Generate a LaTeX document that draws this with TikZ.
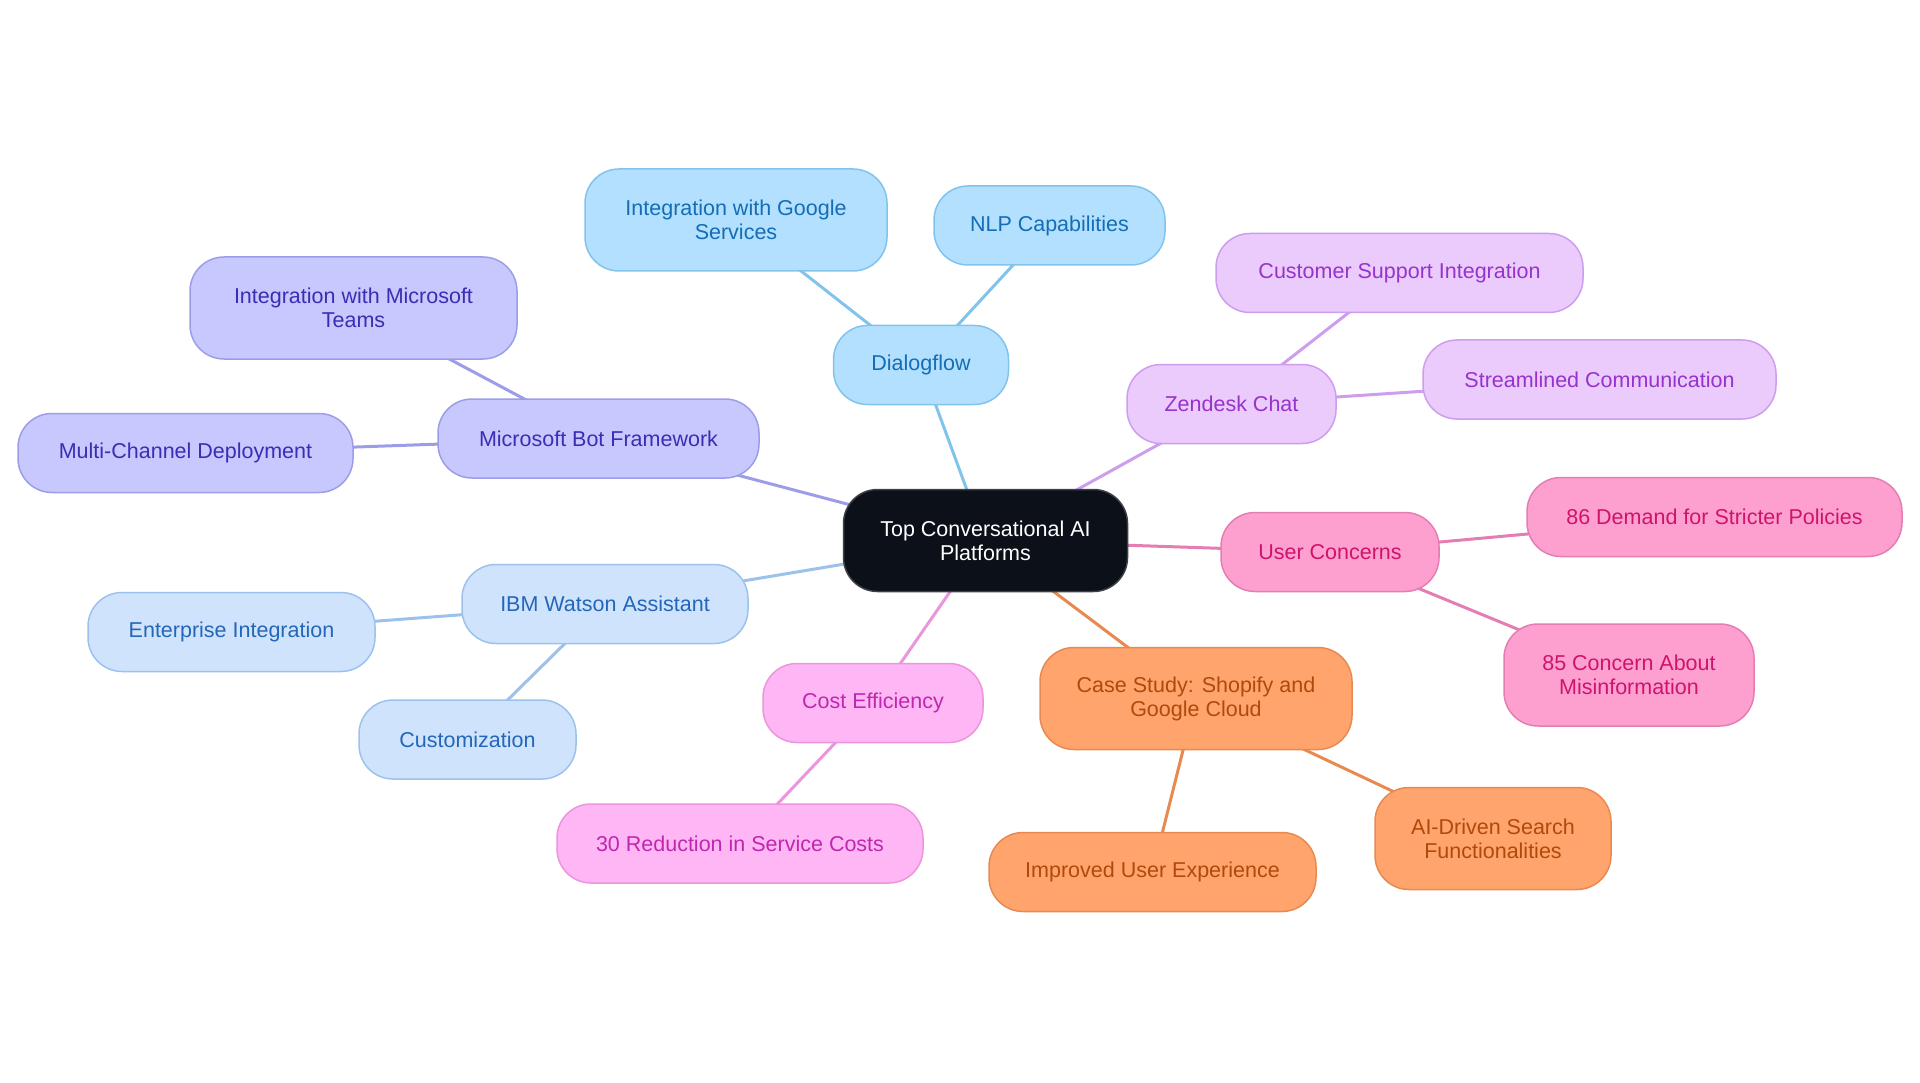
\documentclass[tikz,border=0pt]{standalone}
\usepackage{fontspec}
\setmainfont{Liberation Sans}
\usetikzlibrary{backgrounds}
\definecolor{bfill}{HTML}{B3E0FE}\definecolor{bdraw}{HTML}{82C3EC}\definecolor{btext}{HTML}{146DB5}
\definecolor{mfill}{HTML}{C7C8FD}\definecolor{mdraw}{HTML}{9C9DE8}\definecolor{mtext}{HTML}{3A2EB3}
\definecolor{ifill}{HTML}{CFE4FC}\definecolor{idraw}{HTML}{9CC2EC}\definecolor{itext}{HTML}{2466B8}
\definecolor{zfill}{HTML}{EBCAFC}\definecolor{zdraw}{HTML}{CD9DEE}\definecolor{ztext}{HTML}{9633CC}
\definecolor{ufill}{HTML}{FEA0CF}\definecolor{udraw}{HTML}{E47DB2}\definecolor{utext}{HTML}{CF136C}
\definecolor{cfill}{HTML}{FEB7F4}\definecolor{cdraw}{HTML}{EB95DC}\definecolor{ctext}{HTML}{C027B0}
\definecolor{ofill}{HTML}{FFA46C}\definecolor{odraw}{HTML}{E88A50}\definecolor{otext}{HTML}{B04A0C}
\definecolor{kfill}{HTML}{0C1119}
\tikzset{
  x=1pt, y=-1pt,
  box/.style={rounded corners=34pt, line width=1.5pt, align=center, inner sep=0pt,
    font=\fontsize{21.5pt}{24pt}\selectfont, minimum height=79pt},
  two/.style={minimum height=102pt},
  bnode/.style={box, fill=bfill, draw=bdraw, text=btext},
  mnode/.style={box, fill=mfill, draw=mdraw, text=mtext},
  inode/.style={box, fill=ifill, draw=idraw, text=itext},
  znode/.style={box, fill=zfill, draw=zdraw, text=ztext},
  unode/.style={box, fill=ufill, draw=udraw, text=utext},
  cnode/.style={box, fill=cfill, draw=cdraw, text=ctext},
  onode/.style={box, fill=ofill, draw=odraw, text=otext},
  knode/.style={box, fill=kfill, draw=kfill!80!white, text=white},
  link/.style={line width=3pt},
}
\begin{document}
\begin{tikzpicture}
\useasboundingbox (0,0) rectangle (1920,1083);
\node[knode, two, minimum width=284pt] (root) at (985.5,540.5) {Top Conversational AI\\Platforms};
\node[bnode, minimum width=175pt] (dialog) at (921,365) {Dialogflow};
\node[bnode, two, minimum width=302pt] (google) at (736,220) {Integration with Google\\Services};
\node[bnode, minimum width=231pt] (nlp) at (1049.5,225.5) {NLP Capabilities};
\node[mnode, minimum width=321pt] (msbot) at (598.5,438.5) {Microsoft Bot Framework};
\node[mnode, two, minimum width=327pt] (teams) at (353.5,308) {Integration with Microsoft\\Teams};
\node[mnode, minimum width=335pt] (multi) at (185.5,453) {Multi-Channel Deployment};
\node[inode, minimum width=286pt] (ibm) at (605,604) {IBM Watson Assistant};
\node[inode, minimum width=287pt] (enterprise) at (231.5,632) {Enterprise Integration};
\node[inode, minimum width=217pt] (custom) at (467.5,739.5) {Customization};
\node[cnode, minimum width=220pt] (cost) at (873,703) {Cost Efficiency};
\node[cnode, minimum width=366pt] (reduction) at (740,843.5) {30 Reduction in Service Costs};
\node[onode, two, minimum width=312pt] (case) at (1196,698.5) {Case Study: Shopify and\\Google Cloud};
\node[onode, minimum width=327pt] (improved) at (1152.5,872) {Improved User Experience};
\node[onode, two, minimum width=236pt] (aisearch) at (1493,838.5) {AI-Driven Search\\Functionalities};
\node[unode, minimum width=218pt] (user) at (1330,552) {User Concerns};
\node[unode, minimum width=375pt] (demand) at (1714.5,517) {86 Demand for Stricter Policies};
\node[unode, two, minimum width=250pt] (misinfo) at (1629,675) {85 Concern About\\Misinformation};
\node[znode, minimum width=209pt] (zendesk) at (1231.5,404) {Zendesk Chat};
\node[znode, minimum width=367pt] (support) at (1399.5,273) {Customer Support Integration};
\node[znode, minimum width=353pt] (stream) at (1599.5,379.5) {Streamlined Communication};
\begin{pgfonlayer}{background}
\draw[link, bdraw] (root.center) -- (dialog.center);
\draw[link, bdraw] (dialog.center) -- (google.center);
\draw[link, bdraw] (dialog.center) -- (nlp.center);
\draw[link, mdraw] (root.center) -- (msbot.center);
\draw[link, mdraw] (msbot.center) -- (teams.center);
\draw[link, mdraw] (msbot.center) -- (multi.center);
\draw[link, idraw] (root.center) -- (ibm.center);
\draw[link, idraw] (ibm.center) -- (enterprise.center);
\draw[link, idraw] (ibm.center) -- (custom.center);
\draw[link, cdraw] (root.center) -- (cost.center);
\draw[link, cdraw] (cost.center) -- (reduction.center);
\draw[link, odraw] (root.center) -- (case.center);
\draw[link, odraw] (case.center) -- (improved.center);
\draw[link, odraw] (case.center) -- (aisearch.center);
\draw[link, udraw] (root.center) -- (user.center);
\draw[link, udraw] (user.center) -- (demand.center);
\draw[link, udraw] (user.center) -- (misinfo.center);
\draw[link, zdraw] (root.center) -- (zendesk.center);
\draw[link, zdraw] (zendesk.center) -- (support.center);
\draw[link, zdraw] (zendesk.center) -- (stream.center);
\end{pgfonlayer}
\end{tikzpicture}
\end{document}
